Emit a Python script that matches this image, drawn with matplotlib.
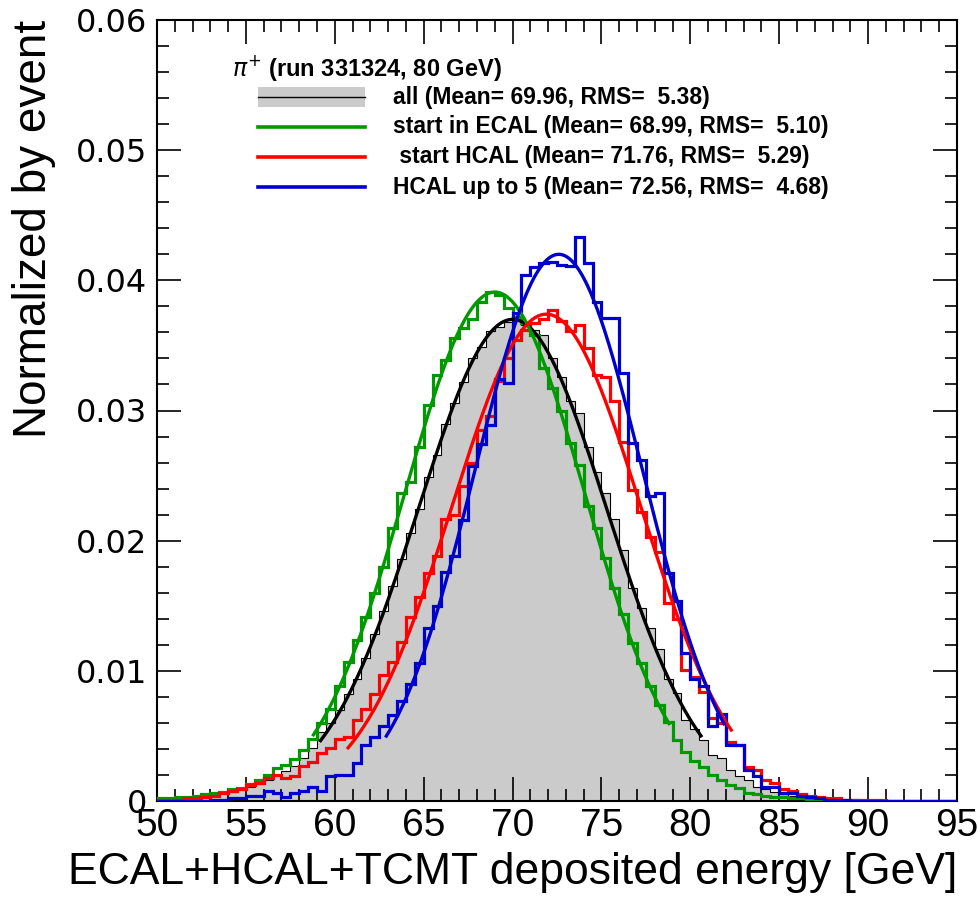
import matplotlib
matplotlib.use("Agg")
import matplotlib.pyplot as plt
import numpy as np
from matplotlib.ticker import MultipleLocator, FuncFormatter

# bin edges: 90 bins of 0.5 GeV between 50 and 95
edges = np.linspace(50, 95, 91)

# normalized histograms (10 bins = 5 GeV per row)
h_all = [0.0001, 0.0001, 0.0002, 0.0002, 0.0003, 0.0004, 0.0005, 0.0006, 0.0007, 0.0009,
         0.0011, 0.0013, 0.0016, 0.0020, 0.0023, 0.0027, 0.0033, 0.0041, 0.0053, 0.0060,
         0.0070, 0.0082, 0.0094, 0.0110, 0.0128, 0.0146, 0.0165, 0.0186, 0.0206, 0.0224,
         0.0249, 0.0266, 0.0290, 0.0306, 0.0322, 0.0340, 0.0349, 0.0361, 0.0364, 0.0368,
         0.0369, 0.0366, 0.0362, 0.0358, 0.0340, 0.0326, 0.0307, 0.0298, 0.0272, 0.0253,
         0.0237, 0.0217, 0.0193, 0.0164, 0.0148, 0.0133, 0.0117, 0.0094, 0.0083, 0.0062,
         0.0055, 0.0047, 0.0035, 0.0033, 0.0024, 0.0019, 0.0016, 0.0011, 0.0009, 0.0007,
         0.0005, 0.0004, 0.0003, 0.0002, 0.0002, 0.0001, 0.0001, 0.0001, 0.0000, 0.0000,
         0.0000, 0.0000, 0.0000, 0.0000, 0.0000, 0.0000, 0.0000, 0.0000, 0.0000, 0.0000]

h_ecal = [0.0002, 0.0002, 0.0003, 0.0003, 0.0004, 0.0005, 0.0006, 0.0007, 0.0009, 0.0010,
          0.0013, 0.0016, 0.0020, 0.0025, 0.0028, 0.0032, 0.0039, 0.0048, 0.0060, 0.0071,
          0.0088, 0.0107, 0.0124, 0.0141, 0.0160, 0.0180, 0.0210, 0.0237, 0.0245, 0.0272,
          0.0304, 0.0327, 0.0339, 0.0356, 0.0363, 0.0370, 0.0383, 0.0391, 0.0389, 0.0379,
          0.0372, 0.0367, 0.0358, 0.0333, 0.0317, 0.0300, 0.0275, 0.0258, 0.0227, 0.0210,
          0.0187, 0.0164, 0.0144, 0.0121, 0.0106, 0.0088, 0.0074, 0.0061, 0.0047, 0.0038,
          0.0031, 0.0026, 0.0020, 0.0016, 0.0012, 0.0010, 0.0006, 0.0005, 0.0004, 0.0003,
          0.0003, 0.0002, 0.0002, 0.0001, 0.0001, 0.0001, 0.0001, 0.0000, 0.0001, 0.0000,
          0.0000, 0.0000, 0.0000, 0.0000, 0.0000, 0.0000, 0.0000, 0.0000, 0.0000, 0.0000]

h_hcal = [0.0001, 0.0001, 0.0001, 0.0002, 0.0002, 0.0003, 0.0004, 0.0006, 0.0008, 0.0009,
          0.0012, 0.0014, 0.0018, 0.0020, 0.0018, 0.0019, 0.0027, 0.0030, 0.0037, 0.0041,
          0.0048, 0.0049, 0.0062, 0.0071, 0.0082, 0.0097, 0.0107, 0.0122, 0.0141, 0.0157,
          0.0175, 0.0188, 0.0217, 0.0220, 0.0242, 0.0260, 0.0285, 0.0296, 0.0323, 0.0340,
          0.0354, 0.0362, 0.0367, 0.0370, 0.0377, 0.0369, 0.0361, 0.0366, 0.0348, 0.0327,
          0.0326, 0.0307, 0.0276, 0.0239, 0.0222, 0.0203, 0.0191, 0.0152, 0.0140, 0.0101,
          0.0095, 0.0084, 0.0064, 0.0060, 0.0045, 0.0043, 0.0026, 0.0024, 0.0016, 0.0014,
          0.0009, 0.0008, 0.0005, 0.0004, 0.0003, 0.0002, 0.0002, 0.0001, 0.0001, 0.0001,
          0.0001, 0.0001, 0.0000, 0.0000, 0.0000, 0.0000, 0.0000, 0.0000, 0.0000, 0.0000]

h_hcal5 = [0.0000, 0.0000, 0.0000, 0.0000, 0.0000, 0.0000, 0.0001, 0.0001, 0.0002, 0.0002,
           0.0004, 0.0004, 0.0008, 0.0006, 0.0003, 0.0006, 0.0008, 0.0011, 0.0008, 0.0019,
           0.0020, 0.0020, 0.0029, 0.0043, 0.0049, 0.0058, 0.0066, 0.0077, 0.0090, 0.0106,
           0.0133, 0.0150, 0.0176, 0.0188, 0.0216, 0.0257, 0.0274, 0.0289, 0.0324, 0.0321,
           0.0375, 0.0404, 0.0410, 0.0413, 0.0414, 0.0412, 0.0411, 0.0433, 0.0413, 0.0383,
           0.0371, 0.0371, 0.0329, 0.0275, 0.0262, 0.0234, 0.0237, 0.0175, 0.0154, 0.0114,
           0.0094, 0.0088, 0.0058, 0.0067, 0.0043, 0.0043, 0.0024, 0.0019, 0.0011, 0.0011,
           0.0006, 0.0006, 0.0004, 0.0003, 0.0002, 0.0001, 0.0001, 0.0001, 0.0000, 0.0000,
           0.0000, 0.0000, 0.0000, 0.0000, 0.0000, 0.0000, 0.0000, 0.0000, 0.0000, 0.0000]

# gaussian fit results: amplitude, mean, sigma, fit range
fit_all = (0.0370, 70.0, 5.30, 59.2, 80.6)
fit_ecal = (0.0391, 69.0, 5.05, 58.8, 78.8)
fit_hcal = (0.0374, 71.9, 5.30, 60.75, 82.3)
fit_hcal5 = (0.0420, 72.6, 4.70, 62.9, 81.9)

header = r"$\pi^{+}$ (run 331324, 80 GeV)"
labels = ["all (Mean= 69.96, RMS=  5.38)",
          "start in ECAL (Mean= 68.99, RMS=  5.10)",
          " start HCAL (Mean= 71.76, RMS=  5.29)",
          "HCAL up to 5 (Mean= 72.56, RMS=  4.68)"]

GREEN = "#009900"
RED = "#ff0000"
BLUE = "#0000cc"
GRAY = "#cbcbcb"

SANS = "Liberation Sans"


def gauss_curve(ax, fit, color):
    a, mu, sig, lo, hi = fit
    xs = np.linspace(lo, hi, 300)
    ax.plot(xs, a * np.exp(-0.5 * ((xs - mu) / sig) ** 2), color=color, lw=2.4, zorder=5)


fig = plt.figure(figsize=(9.8, 9.02), dpi=100)
ax = fig.add_axes([157 / 980, 101 / 902, 800 / 980, 781 / 902])

# all events: gray filled with thin black outline
ax.stairs(h_all, edges, fill=True, color=GRAY, zorder=1)
ax.stairs(h_all, edges, color="black", lw=0.8, zorder=2)
gauss_curve(ax, fit_all, "black")

ax.stairs(h_ecal, edges, color=GREEN, lw=2.3, zorder=3)
gauss_curve(ax, fit_ecal, GREEN)
ax.stairs(h_hcal, edges, color=RED, lw=2.3, zorder=3)
gauss_curve(ax, fit_hcal, RED)
ax.stairs(h_hcal5, edges, color=BLUE, lw=2.3, zorder=3)
gauss_curve(ax, fit_hcal5, BLUE)

ax.set_xlim(50, 95)
ax.set_ylim(0, 0.06)

ax.xaxis.set_major_locator(MultipleLocator(5))
ax.xaxis.set_minor_locator(MultipleLocator(1))
ax.yaxis.set_major_locator(MultipleLocator(0.01))
ax.yaxis.set_minor_locator(MultipleLocator(0.002))
ax.yaxis.set_major_formatter(FuncFormatter(lambda v, p: "0" if abs(v) < 1e-9 else f"{v:.2f}"))

ax.tick_params(which="both", direction="in", top=True, right=True, width=1.2)
ax.tick_params(which="major", length=17)
ax.tick_params(which="minor", length=8.5)
ax.tick_params(axis="x", which="major", pad=5)
ax.tick_params(axis="y", which="major", pad=7)
for t in ax.get_xticklabels():
    t.set_fontfamily(SANS)
    t.set_fontsize(28)
for t in ax.get_yticklabels():
    t.set_fontfamily("DejaVu Sans")
    t.set_fontsize(23)
for s in ax.spines.values():
    s.set_linewidth(1.5)

ax.set_xlabel("ECAL+HCAL+TCMT deposited energy [GeV]", loc="right",
              fontsize=32, family=SANS, labelpad=6)
ax.set_ylabel("Normalized by event", loc="top", fontsize=33, family=SANS, labelpad=14)

# legend drawn by hand, ROOT style
ax.text(0.094, 0.9385, header, transform=ax.transAxes, fontsize=17,
        fontweight="bold", family=SANS, va="center", ha="left")
rows_y = [0.9014, 0.863, 0.8246, 0.786]
cols = ["black", GREEN, RED, BLUE]
for i, (lab, c, yy) in enumerate(zip(labels, cols, rows_y)):
    if i == 0:
        ax.add_patch(plt.Rectangle((0.126, yy - 0.0128), 0.134, 0.0256, transform=ax.transAxes,
                                   facecolor=GRAY, edgecolor="none", zorder=6))
        ax.plot([0.126, 0.26], [yy, yy], transform=ax.transAxes, color="black", lw=1.0, zorder=7)
    else:
        ax.plot([0.126, 0.26], [yy, yy], transform=ax.transAxes, color=c, lw=2.6, zorder=7)
    ax.text(0.295, yy, lab, transform=ax.transAxes, fontsize=16.5, fontweight="bold",
            family=SANS, va="center", ha="left")

fig.savefig("out.png", dpi=100)
